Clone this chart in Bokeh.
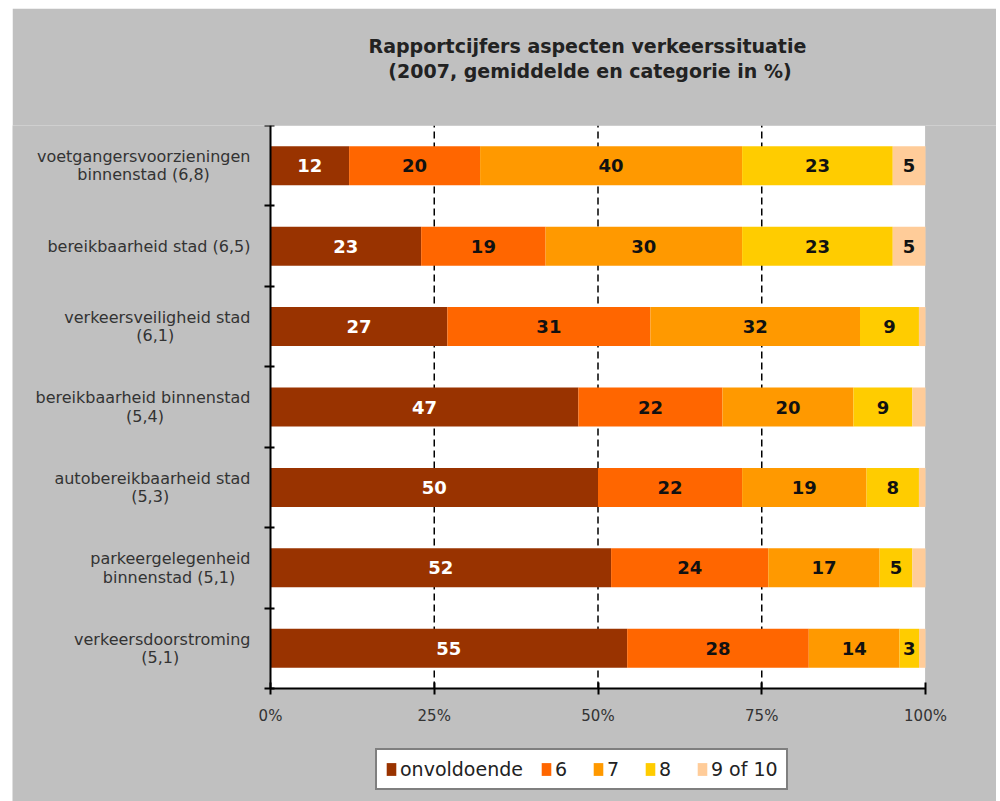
from bokeh.plotting import figure
from bokeh.models import Range1d, FixedTicker, ColumnDataSource, Legend, LegendItem, BoxAnnotation
from bokeh.core.properties import value
from bokeh.embed import file_html
from bokeh.resources import INLINE

NB = "\u00a0"
categories = [
    "voetgangersvoorzieningen\nbinnenstad (6,8)" + NB * 8,
    "bereikbaarheid stad (6,5)",
    "verkeersveiligheid stad\n(6,1)" + NB * 15,
    "bereikbaarheid binnenstad\n(5,4)" + NB * 17,
    "autobereikbaarheid stad\n(5,3)" + NB * 16,
    "parkeergelegenheid\nbinnenstad (5,1)" + NB * 3,
    "verkeersdoorstroming\n(5,1)" + NB * 14,
]
series_names = ["onvoldoende", "6", "7", "8", "9 of 10"]
onvoldoende = [12, 23, 27, 47, 50, 52, 55]
zes = [20, 19, 31, 22, 22, 24, 28]
zeven = [40, 30, 32, 20, 19, 17, 14]
acht = [23, 23, 9, 9, 8, 5, 3]
negen_of_tien = [5, 5, 1, 2, 1, 2, 1]
colors = ["#993300", "#FF6600", "#FF9900", "#FFCC00", "#FFCC99"]
label_colors = ["white", "#111111", "#111111", "#111111", "#111111"]
x_ticks = [0, 25, 50, 75, 100]
x_tick_labels = ["0%", "25%", "50%", "75%", "100%"]
grid_ticks = [25, 50, 75]
title_text = ("Rapportcijfers aspecten verkeerssituatie\n" + NB * 3 +
              "(2007, gemiddelde en categorie in %)\n" + NB)

FONT = "DejaVu Sans"
GREY = "#C0C0C0"
n = len(categories)
ypos = [n - i - 0.5 for i in range(n)]
series = [onvoldoende, zes, zeven, acht, negen_of_tien]
totals = [sum(s[i] for s in series) for i in range(n)]

# page geometry (pixels): figure 984 x 793, plotting area 655 x 563 at (258, 117)
FIG_W, FIG_H = 984, 793
AREA_L, AREA_T, AREA_W, AREA_H = 258, 117, 655, 563
x_lo = -AREA_L / AREA_W * 100
x_hi = (FIG_W - AREA_L) / AREA_W * 100
y_lo = -(FIG_H - AREA_T - AREA_H) / AREA_H * n

# the frame covers the whole figure below the title so axis labels and legend are not clipped
p = figure(width=FIG_W, height=FIG_H, output_backend="svg", toolbar_location=None,
           x_range=Range1d(x_lo, x_hi), y_range=Range1d(y_lo, n),
           min_border_left=0, min_border_right=0, min_border_top=AREA_T,
           min_border_bottom=0)
p.margin = (8, 0, 0, 12)
p.background_fill_color = GREY
p.border_fill_color = GREY
p.outline_line_color = None

# white plotting area
p.add_layout(BoxAnnotation(left=0, right=100, bottom=0, top=n, fill_color="white",
                           fill_alpha=1, line_color="#888888", line_width=1,
                           level="underlay"))

p.title.text = title_text
p.title.align = "left"
p.title.offset = 356
p.title.vertical_align = "bottom"
p.title.text_font = FONT
p.title.text_font_size = "19px"
p.title.text_font_style = "bold"
p.title.text_color = "#222222"
p.title.text_line_height = 1.12
p.title.standoff = 38

p.grid.grid_line_color = None
# dashed gridlines limited to the plotting area
p.segment(x0=grid_ticks, x1=grid_ticks, y0=[0] * len(grid_ticks), y1=[n] * len(grid_ticks),
          line_color="black", line_dash="7 4", line_width=1.5)

renderers = []
cum = [0.0] * n
for k, s in enumerate(series):
    left = [cum[i] for i in range(n)]
    right = [cum[i] + s[i] * 100.0 / totals[i] for i in range(n)]
    cum = right
    src = ColumnDataSource(dict(y=ypos, left=left, right=right,
                                xm=[(l + r) / 2 for l, r in zip(left, right)],
                                lab=[str(v) if v >= 3 else "" for v in s]))
    r = p.hbar(y="y", left="left", right="right", height=0.485, source=src,
               fill_color=colors[k], line_color=None)
    renderers.append(r)
    p.text(x="xm", y="y", text="lab", source=src, text_align="center",
           text_baseline="middle", text_font=value(FONT), text_font_size="18px",
           text_font_style="bold", text_color=label_colors[k])

p.xaxis.fixed_location = 0
p.xaxis.bounds = (0, 100)
p.xaxis.ticker = FixedTicker(ticks=x_ticks)
p.xaxis.major_label_overrides = {t: l for t, l in zip(x_ticks, x_tick_labels)}
p.xaxis.major_tick_in = 6
p.xaxis.major_tick_out = 6
p.xaxis.minor_tick_line_color = None
p.xaxis.axis_line_width = 2
p.xaxis.axis_line_color = "black"
p.xaxis.major_tick_line_width = 2
p.xaxis.major_label_text_font = FONT
p.xaxis.major_label_text_font_size = "15px"
p.xaxis.major_label_text_color = "#333333"
p.xaxis.major_label_standoff = 12

p.yaxis.fixed_location = 0
p.yaxis.bounds = (0, n)
p.yaxis.ticker = FixedTicker(ticks=ypos, minor_ticks=list(range(n + 1)))
p.yaxis.major_label_overrides = {y: c for y, c in zip(ypos, categories)}
p.yaxis.major_tick_line_color = None
p.yaxis.minor_tick_in = 4
p.yaxis.minor_tick_out = 6
p.yaxis.minor_tick_line_color = "black"
p.yaxis.minor_tick_line_width = 2
p.yaxis.axis_line_width = 2
p.yaxis.axis_line_color = "black"
p.yaxis.major_label_text_font = FONT
p.yaxis.major_label_text_font_size = "16px"
p.yaxis.major_label_text_line_height = 0.97
p.yaxis.major_label_text_color = "#333333"
p.yaxis.major_label_standoff = 14

legend = Legend(items=[LegendItem(label=nm, renderers=[r]) for nm, r in zip(series_names, renderers)],
                orientation="horizontal", location=(363, 11))
legend.background_fill_color = "white"
legend.background_fill_alpha = 1
legend.border_line_color = "black"
legend.border_line_width = 2
legend.label_text_font = FONT
legend.label_text_font_size = "19px"
legend.label_text_color = "#222222"
legend.glyph_width = 12
legend.glyph_height = 16
legend.label_standoff = 3
legend.spacing = 17
legend.padding = 8
legend.margin = 0
p.add_layout(legend, "center")

open("out.html", "w").write(file_html(p, INLINE))
